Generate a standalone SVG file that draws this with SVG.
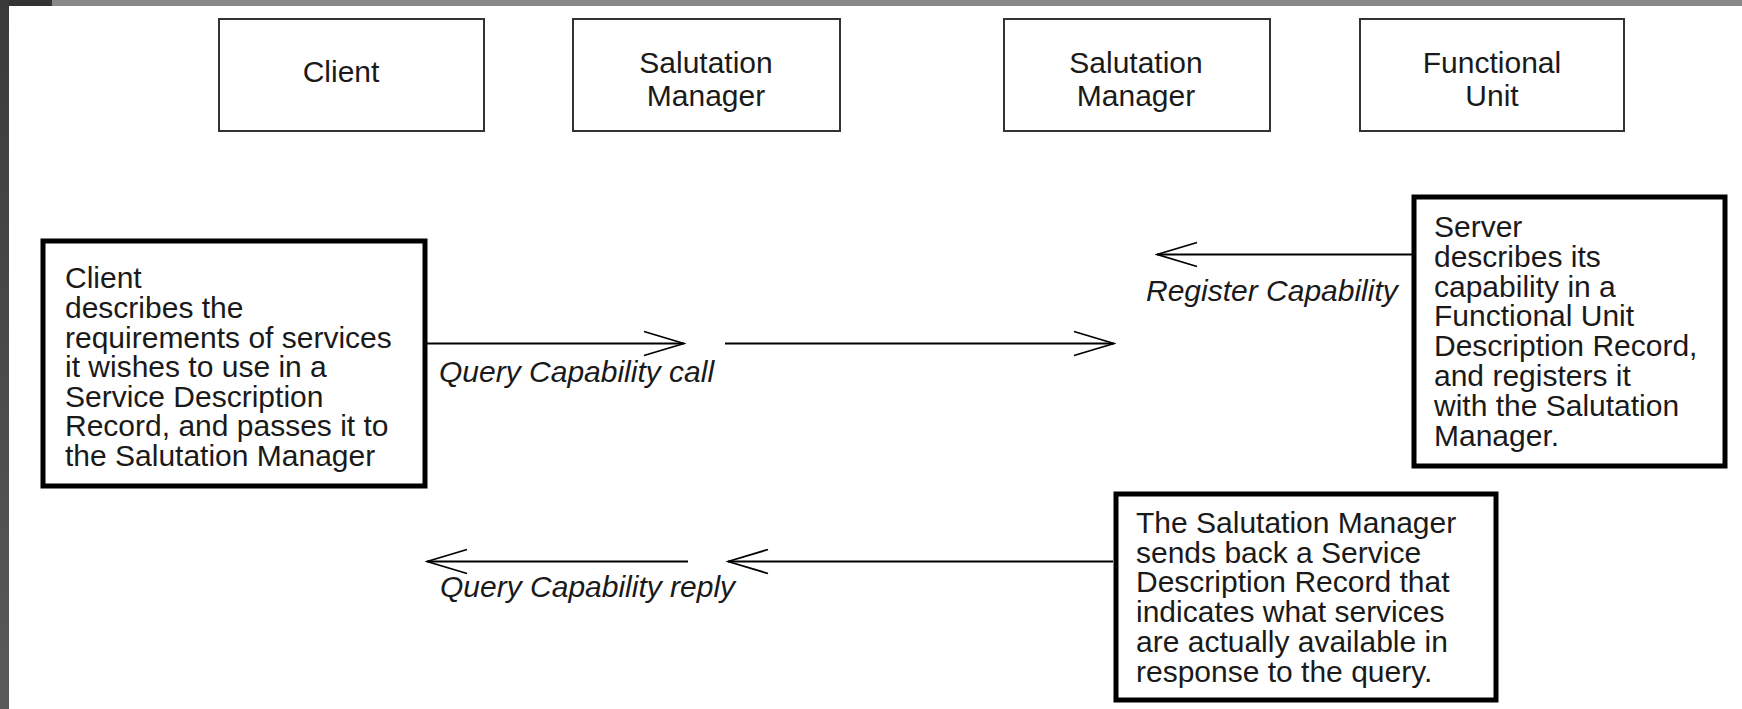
<svg xmlns="http://www.w3.org/2000/svg" width="1742" height="709" viewBox="0 0 1742 709">
<style>
.t{font-family:"Liberation Sans",Arial,sans-serif;font-size:30px;fill:#1a1a1a}
.c{text-anchor:middle}
.i{font-style:italic}
.box{fill:#fff;stroke:#333;stroke-width:2}
.tbox{fill:#fff;stroke:#000;stroke-width:5}
.ln{stroke:#000;stroke-width:1.8;fill:none}
</style>
<defs>
<linearGradient id="bar" x1="0" y1="0" x2="0" y2="1">
<stop offset="0" stop-color="#3a3a3a"/>
<stop offset="1" stop-color="#5a5a5a"/>
</linearGradient>
<marker id="ah" markerUnits="userSpaceOnUse" viewBox="0 0 44 28" refX="42" refY="14" markerWidth="44" markerHeight="28" orient="auto">
<path d="M2,2 L42,14 L2,26" fill="none" stroke="#000" stroke-width="1.8"/>
</marker>
</defs>
<rect x="0" y="0" width="1742" height="709" fill="#fff"/>
<rect x="0" y="0" width="1742" height="6" fill="#898989"/>
<rect x="0" y="0" width="52" height="6" fill="#333"/>
<rect x="0" y="0" width="9" height="709" fill="url(#bar)"/>

<g id="client-top">
<rect class="box" x="219" y="19" width="265" height="112"/>
<text class="t c" x="341" y="82">Client</text>
</g>
<g id="sm1-top">
<rect class="box" x="573" y="19" width="267" height="112"/>
<text class="t c" x="706" y="73">Salutation</text>
<text class="t c" x="706" y="106">Manager</text>
</g>
<g id="sm2-top">
<rect class="box" x="1004" y="19" width="266" height="112"/>
<text class="t c" x="1136" y="73">Salutation</text>
<text class="t c" x="1136" y="106">Manager</text>
</g>
<g id="fu-top">
<rect class="box" x="1360" y="19" width="264" height="112"/>
<text class="t c" x="1492" y="73">Functional</text>
<text class="t c" x="1492" y="106">Unit</text>
</g>

<g id="client-note">
<rect class="tbox" x="43" y="241" width="382" height="245"/>
<text class="t" x="65">
<tspan x="65" y="288">Client</tspan>
<tspan x="65" y="318">describes the</tspan>
<tspan x="65" y="347.5">requirements of services</tspan>
<tspan x="65" y="377">it wishes to use in a</tspan>
<tspan x="65" y="406.5">Service Description</tspan>
<tspan x="65" y="436">Record, and passes it to</tspan>
<tspan x="65" y="465.5">the Salutation Manager</tspan>
</text>
</g>

<g id="server-note">
<rect class="tbox" x="1414" y="197" width="311" height="269"/>
<text class="t">
<tspan x="1434" y="237">Server</tspan>
<tspan x="1434" y="267">describes its</tspan>
<tspan x="1434" y="296.5">capability in a</tspan>
<tspan x="1434" y="326">Functional Unit</tspan>
<tspan x="1434" y="356">Description Record,</tspan>
<tspan x="1434" y="385.5">and registers it</tspan>
<tspan x="1434" y="415.5">with the Salutation</tspan>
<tspan x="1434" y="445.5">Manager.</tspan>
</text>
</g>

<g id="reply-note">
<rect class="tbox" x="1116" y="494" width="380" height="206"/>
<text class="t">
<tspan x="1136" y="533">The Salutation Manager</tspan>
<tspan x="1136" y="562.5">sends back a Service</tspan>
<tspan x="1136" y="592">Description Record that</tspan>
<tspan x="1136" y="622">indicates what services</tspan>
<tspan x="1136" y="652">are actually available in</tspan>
<tspan x="1136" y="681.5">response to the query.</tspan>
</text>
</g>

<g id="connectors">
<line class="ln" x1="425" y1="343.5" x2="684" y2="343.5" marker-end="url(#ah)"/>
<line class="ln" x1="725" y1="343.5" x2="1114" y2="343.5" marker-end="url(#ah)"/>
<line class="ln" x1="1412" y1="254.5" x2="1157" y2="254.5" marker-end="url(#ah)"/>
<line class="ln" x1="1113" y1="561.5" x2="728" y2="561.5" marker-end="url(#ah)"/>
<line class="ln" x1="688" y1="561.5" x2="427" y2="561.5" marker-end="url(#ah)"/>
<text class="t i" x="439" y="382">Query Capability call</text>
<text class="t i" x="1146" y="301">Register Capability</text>
<text class="t i" x="440" y="597">Query Capability reply</text>
</g>
</svg>
